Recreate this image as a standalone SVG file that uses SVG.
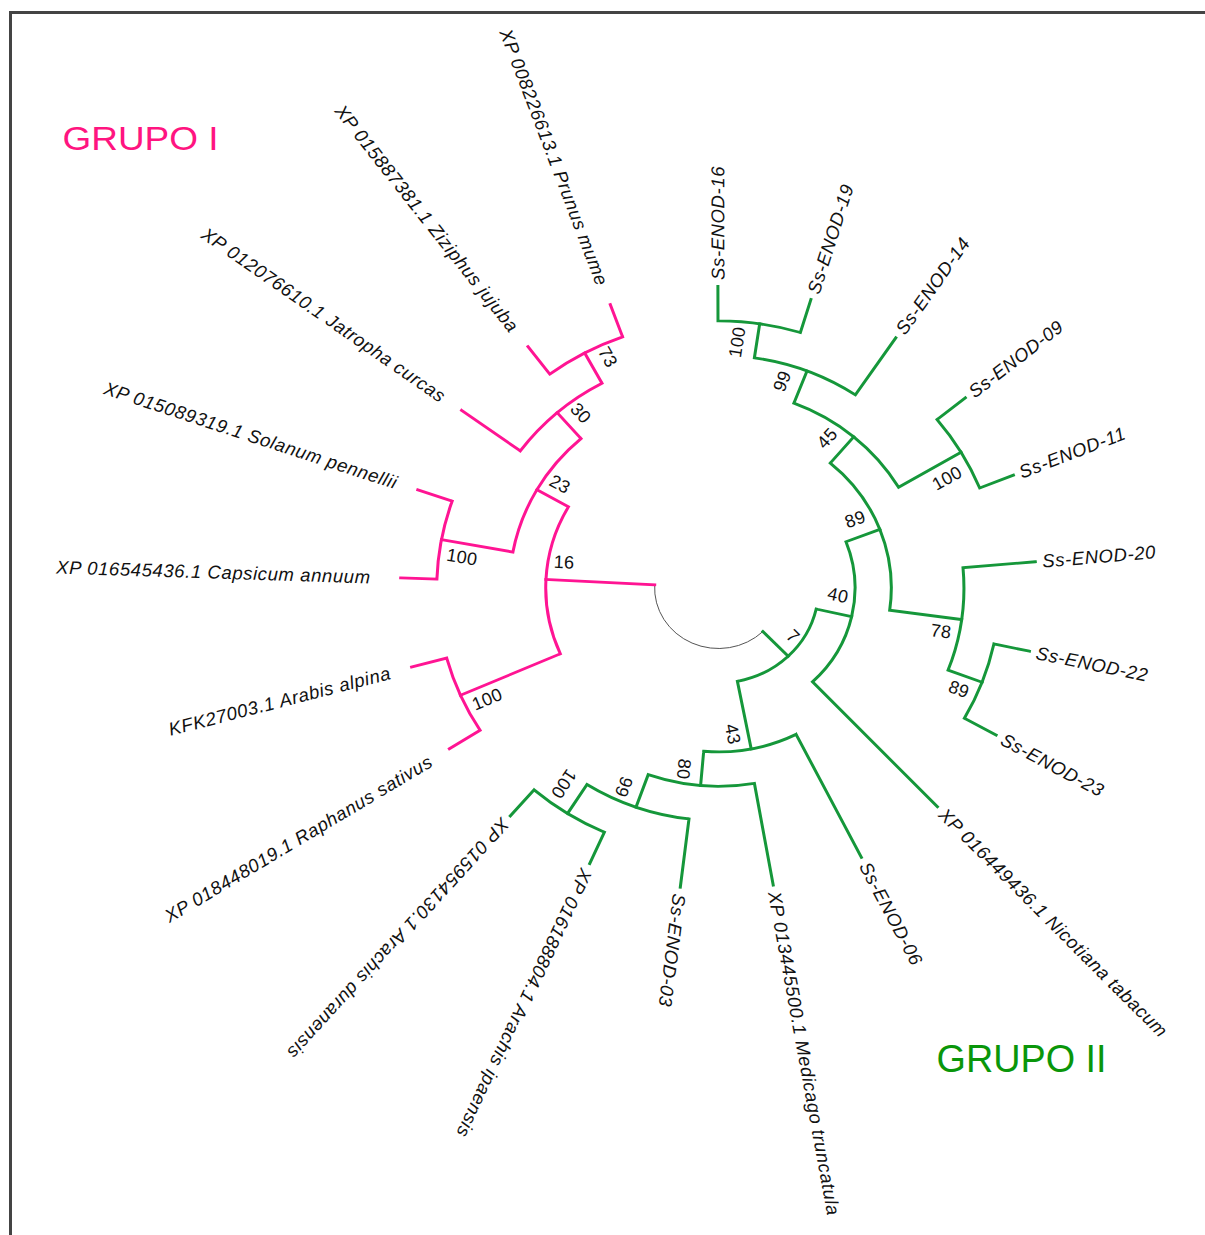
<svg xmlns="http://www.w3.org/2000/svg" width="1205" height="1235" viewBox="0 0 1205 1235">
<style>
.br{fill:none;stroke-width:3;vector-effect:non-scaling-stroke;stroke-linecap:square}
.pk{stroke:#FF1493}
.gr{stroke:#15973A}
.rt{fill:none;stroke:#555;stroke-width:1;vector-effect:non-scaling-stroke}
.lbl{font-family:"Liberation Sans",Arial,sans-serif;font-style:italic;font-size:18.5px;letter-spacing:0.6px;fill:#111}
.end{text-anchor:end}
.bs{font-family:"Liberation Sans",Arial,sans-serif;font-size:18px;letter-spacing:0.3px;fill:#111;text-anchor:middle}
.grp{font-family:"Liberation Sans",Arial,sans-serif}
</style>
<rect width="1205" height="1235" fill="#fff"/>
<path d="M10.5 1235 V12.5 H1205" fill="none" stroke="#444" stroke-width="3"/>
<g id="connectors" transform="translate(718.5,588) scale(1,0.948)">
<path class="rt" d="M 44.4 45.9 A 63.9 63.9 0 0 1 -63.8 -3.3"/>
<g class="br gr">
<path d="M 44.4 45.9 L 69.7 72"/>
<path d="M -0.5 -281.7 A 281.7 281.7 0 0 1 81.9 -269.5 M -0.5 -281.7 L -0.6 -318 M 81.9 -269.5 L 92.4 -304.3"/>
<path d="M 35.9 -242.8 A 245.4 245.4 0 0 1 136.9 -203.7 M 35.9 -242.8 L 41.2 -278.7 M 136.9 -203.7 L 177.3 -263.9"/>
<path d="M 218.6 -177.7 A 281.7 281.7 0 0 1 261.2 -105.5 M 218.6 -177.7 L 246.8 -200.6 M 261.2 -105.5 L 294.9 -119.1"/>
<path d="M 75.4 -195 A 209.1 209.1 0 0 1 180.1 -106.3 M 75.4 -195 L 88.5 -228.9 M 180.1 -106.3 L 242.6 -143.2"/>
<path d="M 275.4 59 A 281.7 281.7 0 0 1 245.9 137.4 M 275.4 59 L 310.9 66.7 M 245.9 137.4 L 277.6 155.2"/>
<path d="M 244.5 -21.4 A 245.4 245.4 0 0 1 229.6 86.6 M 244.5 -21.4 L 316.8 -27.7 M 229.6 86.6 L 263.6 99.4"/>
<path d="M 111.8 -131.8 A 172.8 172.8 0 0 1 171.2 23.4 M 111.8 -131.8 L 135.2 -159.5 M 171.2 23.4 L 243.1 33.3"/>
<path d="M 127.5 -48.8 A 136.5 136.5 0 0 1 94 99 M 127.5 -48.8 L 161.4 -61.8 M 94 99 L 218.9 230.7"/>
<path d="M -114.1 257.6 A 281.7 281.7 0 0 1 -184.4 212.9 M -114.1 257.6 L -128.8 290.7 M -184.4 212.9 L -208.2 240.4"/>
<path d="M -29.5 243.6 A 245.4 245.4 0 0 1 -131.5 207.2 M -29.5 243.6 L -38.2 315.7 M -131.5 207.2 L -150.9 237.8"/>
<path d="M 35.9 206 A 209.1 209.1 0 0 1 -70.3 196.9 M 35.9 206 L 54.7 313.3 M -70.3 196.9 L -82.5 231.1"/>
<path d="M 77.6 154.4 A 172.8 172.8 0 0 1 -14.8 172.2 M 77.6 154.4 L 142.9 284.1 M -14.8 172.2 L -17.9 208.3"/>
<path d="M 97.7 22.2 A 100.2 100.2 0 0 1 18.9 98.4 M 97.7 22.2 L 133.1 30.2 M 18.9 98.4 L 32.7 169.7"/>
</g>
<g class="br pk">
<path d="M -63.8 -3.3 L -172.6 -9"/>
<path d="M -158.2 69.4 A 172.8 172.8 0 0 1 -150.1 -85.6 M -158.2 69.4 L -258 113.2 M -150.1 -85.6 L -181.6 -103.6"/>
<path d="M -238.4 150.1 A 281.7 281.7 0 0 1 -271.8 73.9 M -238.4 150.1 L -269.1 169.5 M -271.8 73.9 L -306.9 83.4"/>
<path d="M -205.6 -37.9 A 209.1 209.1 0 0 1 -137.5 -157.6 M -205.6 -37.9 L -277 -51.1 M -137.5 -157.6 L -161.3 -184.9"/>
<path d="M -281.6 -9.4 A 281.7 281.7 0 0 1 -266.3 -91.7 M -281.6 -9.4 L -317.8 -10.6 M -266.3 -91.7 L -300.7 -103.5"/>
<path d="M -198.2 -144.6 A 245.4 245.4 0 0 1 -116.5 -216 M -198.2 -144.6 L -256.9 -187.4 M -116.5 -216 L -133.8 -247.9"/>
<path d="M -168.7 -225.6 A 281.7 281.7 0 0 1 -95.9 -264.9 M -168.7 -225.6 L -190.5 -254.6 M -95.9 -264.9 L -108.2 -299"/>
</g>
</g>
<g id="leaf-enod16"><text class="lbl" dy="0.35em" transform="translate(717.9,279.9) rotate(-90.1)">Ss-ENOD-16</text></g>
<g id="leaf-enod19"><text class="lbl" dy="0.35em" transform="translate(813,293.2) rotate(-72.2)">Ss-ENOD-19</text></g>
<g id="leaf-enod14"><text class="lbl" dy="0.35em" transform="translate(899.8,332.3) rotate(-54.7)">Ss-ENOD-14</text></g>
<g id="leaf-enod09"><text class="lbl" dy="0.35em" transform="translate(970.7,393.7) rotate(-37.6)">Ss-ENOD-09</text></g>
<g id="leaf-enod11"><text class="lbl" dy="0.35em" transform="translate(1019.8,472.6) rotate(-21)">Ss-ENOD-11</text></g>
<g id="leaf-enod20"><text class="lbl" dy="0.35em" transform="translate(1042.3,561.1) rotate(-4.7)">Ss-ENOD-20</text></g>
<g id="leaf-enod22"><text class="lbl" dy="0.35em" transform="translate(1036.3,652.6) rotate(11.5)">Ss-ENOD-22</text></g>
<g id="leaf-enod23"><text class="lbl" dy="0.35em" transform="translate(1002.2,738.3) rotate(27.9)">Ss-ENOD-23</text></g>
<g id="leaf-nicotiana"><text class="lbl" dy="0.35em" transform="translate(942.2,811.5) rotate(45)">XP 016449436.1 Nicotiana tabacum</text></g>
<g id="leaf-enod06"><text class="lbl" dy="0.35em" transform="translate(864.5,863.3) rotate(62.1)">Ss-ENOD-06</text></g>
<g id="leaf-medicago"><text class="lbl" dy="0.35em" transform="translate(774.4,891.5) rotate(79.6)">XP 013445500.1 Medicago truncatula</text></g>
<g id="leaf-enod03"><text class="lbl" dy="0.35em" transform="translate(679.5,893.9) rotate(97.3)">Ss-ENOD-03</text></g>
<g id="leaf-ipaensis"><text class="lbl" dy="0.35em" transform="translate(586.8,869.7) rotate(115.1)">XP 016188804.1 Arachis ipaensis</text></g>
<g id="leaf-duranensis"><text class="lbl" dy="0.35em" transform="translate(505.7,820.9) rotate(132.4)">XP 015954130.1 Arachis duranensis</text></g>
<g id="leaf-raphanus"><text class="lbl end" dy="0.35em" transform="translate(430.8,759.8) rotate(-30.8)">XP 018448019.1 Raphanus sativus</text></g>
<g id="leaf-arabis"><text class="lbl end" dy="0.35em" transform="translate(390.4,672.5) rotate(-14.45)">KFK27003.1 Arabis alpina</text></g>
<g id="leaf-capsicum"><text class="lbl end" dy="0.35em" transform="translate(370.7,577) rotate(1.8)">XP 016545436.1 Capsicum annuum</text></g>
<g id="leaf-solanum"><text class="lbl end" dy="0.35em" transform="translate(397,483.1) rotate(18.1)">XP 015089319.1 Solanum pennellii</text></g>
<g id="leaf-jatropha"><text class="lbl end" dy="0.35em" transform="translate(443.8,398.1) rotate(34.7)">XP 012076610.1 Jatropha curcas</text></g>
<g id="leaf-ziziphus"><text class="lbl end" dy="0.35em" transform="translate(514.8,329.9) rotate(51.7)">XP 015887381.1 Ziziphus jujuba</text></g>
<g id="leaf-prunus"><text class="lbl end" dy="0.35em" transform="translate(602.8,284.9) rotate(69.1)">XP 008226613.1 Prunus mume</text></g>
<g id="node-73"><text class="bs" dy="0.35em" transform="translate(608,357) rotate(60.4)">73</text></g>
<g id="node-30"><text class="bs" dy="0.35em" transform="translate(581,413) rotate(47.4)">30</text></g>
<g id="node-23"><text class="bs" dy="0.35em" transform="translate(560,484) rotate(28.4)">23</text></g>
<g id="node-16"><text class="bs" dy="0.35em" transform="translate(564,562) rotate(2.8)">16</text></g>
<g id="node-100sc"><text class="bs" dy="0.35em" transform="translate(462,557) rotate(9.9)">100</text></g>
<g id="node-100ar"><text class="bs" dy="0.35em" transform="translate(487,699) rotate(-22.6)">100</text></g>
<g id="node-40"><text class="bs" dy="0.35em" transform="translate(838,595) rotate(12.2)">40</text></g>
<g id="node-7"><text class="bs" dy="0.35em" transform="translate(793,636) rotate(44.4)">7</text></g>
<g id="node-43"><text class="bs" dy="0.35em" transform="translate(733,734) rotate(78.5)">43</text></g>
<g id="node-80"><text class="bs" dy="0.35em" transform="translate(684,769) rotate(95.2)">80</text></g>
<g id="node-99b"><text class="bs" dy="0.35em" transform="translate(624,787) rotate(110.6)">99</text></g>
<g id="node-100arachis"><text class="bs" dy="0.35em" transform="translate(564,784) rotate(123.8)">100</text></g>
<g id="node-100top"><text class="bs" dy="0.35em" transform="translate(737,342) rotate(-81.1)">100</text></g>
<g id="node-99top"><text class="bs" dy="0.35em" transform="translate(782,381) rotate(-67.8)">99</text></g>
<g id="node-45"><text class="bs" dy="0.35em" transform="translate(827,438) rotate(-48.2)">45</text></g>
<g id="node-100b"><text class="bs" dy="0.35em" transform="translate(947,478) rotate(-29.2)">100</text></g>
<g id="node-89"><text class="bs" dy="0.35em" transform="translate(855,519) rotate(-19.9)">89</text></g>
<g id="node-78"><text class="bs" dy="0.35em" transform="translate(941,631) rotate(7.4)">78</text></g>
<g id="node-89b"><text class="bs" dy="0.35em" transform="translate(959,689) rotate(19.7)">89</text></g>
<g id="grupo-1"><text class="grp" x="62.5" y="150" font-size="33" fill="#FF1480" textLength="156" lengthAdjust="spacingAndGlyphs">GRUPO I</text></g>
<g id="grupo-2"><text class="grp" x="936.5" y="1072" font-size="38" fill="#0A960A" textLength="170" lengthAdjust="spacingAndGlyphs">GRUPO II</text></g>
</svg>
